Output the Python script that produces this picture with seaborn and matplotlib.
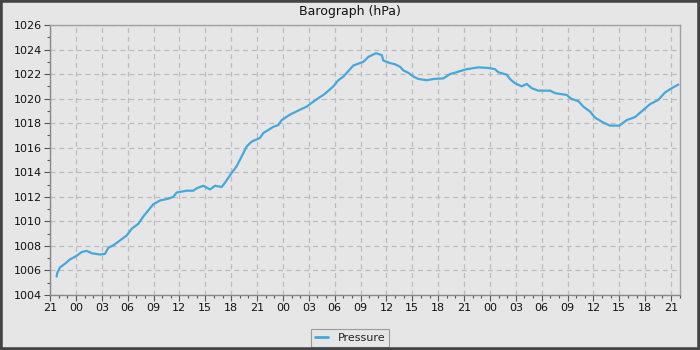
import matplotlib
matplotlib.use("Agg")
import matplotlib.pyplot as plt
import matplotlib.dates as mdates
from matplotlib.ticker import MultipleLocator
from matplotlib.patches import Rectangle
import seaborn as sns
import pandas as pd
import numpy as np

# Hours elapsed since 21:00 of the first day
hours = [0.77, 0.84, 1.16, 1.74, 2.32, 3.1, 3.68, 4.26, 4.84, 5.8, 6.38, 6.76, 7.35,
         8.12, 8.9, 9.47, 10.24, 10.82, 11.4, 11.98, 12.75, 13.72, 14.3, 14.69, 15.85,
         16.62, 17.0, 17.78, 18.55, 19.13, 19.9, 20.29, 20.87, 21.64, 22.23, 22.8, 23.38,
         24.35, 24.73, 25.89, 26.47, 26.86, 27.83, 28.99, 29.76, 30.72, 31.88, 32.85,
         33.43, 34.01, 34.4, 35.17, 36.33, 36.91, 37.8, 38.46, 38.65, 39.42, 40.0, 40.58,
         40.97, 41.55, 42.13, 42.71, 43.68, 44.45, 45.6, 46.38, 47.34, 48.31, 49.66,
         50.82, 51.59, 51.98, 52.95, 53.33, 53.91, 54.69, 55.27, 55.85, 56.62, 57.97,
         58.55, 59.9, 60.48, 61.25, 61.83, 62.61, 63.19, 64.15, 64.93, 66.0, 66.86,
         67.83, 68.41, 69.57, 70.53, 71.3, 72.08, 72.85]
pressure = [1005.5, 1005.8, 1006.25, 1006.55, 1006.9, 1007.2, 1007.5, 1007.6, 1007.4,
            1007.3, 1007.35, 1007.85, 1008.05, 1008.45, 1008.85, 1009.4, 1009.8, 1010.4,
            1010.9, 1011.4, 1011.7, 1011.85, 1012.0, 1012.35, 1012.5, 1012.5, 1012.7,
            1012.9, 1012.6, 1012.9, 1012.8, 1013.15, 1013.75, 1014.5, 1015.3, 1016.1,
            1016.5, 1016.8, 1017.2, 1017.7, 1017.85, 1018.25, 1018.7, 1019.1, 1019.35,
            1019.85, 1020.4, 1021.0, 1021.5, 1021.8, 1022.1, 1022.7, 1023.0, 1023.4,
            1023.7, 1023.55, 1023.1, 1022.9, 1022.8, 1022.6, 1022.3, 1022.1, 1021.8,
            1021.6, 1021.5, 1021.6, 1021.65, 1022.0, 1022.2, 1022.4, 1022.55, 1022.5,
            1022.4, 1022.15, 1021.95, 1021.6, 1021.25, 1021.0, 1021.2, 1020.85, 1020.65,
            1020.65, 1020.45, 1020.3, 1019.97, 1019.8, 1019.35, 1018.95, 1018.45,
            1018.05, 1017.8, 1017.8, 1018.25, 1018.5, 1018.85, 1019.55, 1019.9, 1020.5,
            1020.85, 1021.15]
series_name = "Pressure"
title = "Barograph (hPa)"
y_range = (1004, 1026)
x_span_hours = 73.04

start = pd.Timestamp("2024-01-01 21:00")
df = pd.DataFrame({
    "time": [start + pd.Timedelta(hours=h) for h in hours],
    "pressure": pressure,
    "series": series_name,
})

sns.set_theme(style="white")
plt.rcParams["font.family"] = ["DejaVu Sans"]

bg = "#e6e6e6"
line_color = "#45a8db"

fig = plt.figure(figsize=(7, 3.5), dpi=100, facecolor=bg)
ax = fig.add_axes([50 / 700, 1 - 295 / 350, 630 / 700, 270 / 350])
ax.set_facecolor(bg)

sns.lineplot(data=df, x="time", y="pressure", hue="series",
             palette=[line_color], linewidth=1.6, ax=ax, legend=True)

ax.set_xlim(start, start + pd.Timedelta(hours=x_span_hours))
ax.set_ylim(*y_range)
ax.xaxis.set_major_locator(mdates.HourLocator(byhour=range(0, 24, 3)))
ax.xaxis.set_minor_locator(mdates.HourLocator())
ax.xaxis.set_major_formatter(mdates.DateFormatter("%H"))
ax.yaxis.set_major_locator(MultipleLocator(2))
ax.yaxis.set_minor_locator(MultipleLocator(1))
ax.yaxis.set_major_formatter(matplotlib.ticker.FormatStrFormatter("%d"))

ax.set_xlabel("")
ax.set_ylabel("")
ax.grid(True, which="major", linestyle=(0, (4, 3)), color="#bdbdbd", linewidth=0.9)

ax.tick_params(axis="both", which="major", direction="out", length=4, width=0.8,
               color="#555555", labelsize=8, labelcolor="#111111", pad=2,
               bottom=True, left=True)
ax.tick_params(axis="both", which="minor", direction="out", length=2, width=0.8,
               color="#555555", bottom=True, left=True)

for side in ["left", "bottom"]:
    ax.spines[side].set_color("#888888")
    ax.spines[side].set_linewidth(1.0)
for side in ["top", "right"]:
    ax.spines[side].set_color("#a0a0a0")
    ax.spines[side].set_linewidth(1.0)

fig.text(0.5, 1 - 12 / 350, title, ha="center", va="center", fontsize=9, color="#111111")

leg = ax.legend(loc="lower center", bbox_to_anchor=(0.5, 3.5 / 350),
                bbox_transform=fig.transFigure, frameon=True, fontsize=8,
                handlelength=1.2, handletextpad=0.9, borderpad=0.35,
                borderaxespad=0, fancybox=False)
leg.get_frame().set_facecolor(bg)
leg.get_frame().set_edgecolor("#888888")
leg.get_frame().set_linewidth(0.8)
for h in leg.legend_handles:
    h.set_linewidth(2)

fig.patches.append(Rectangle((0, 0), 1, 1, transform=fig.transFigure, fill=False,
                             edgecolor="#444444", linewidth=4, zorder=10))

fig.savefig("out.png", dpi=100, facecolor=bg)
